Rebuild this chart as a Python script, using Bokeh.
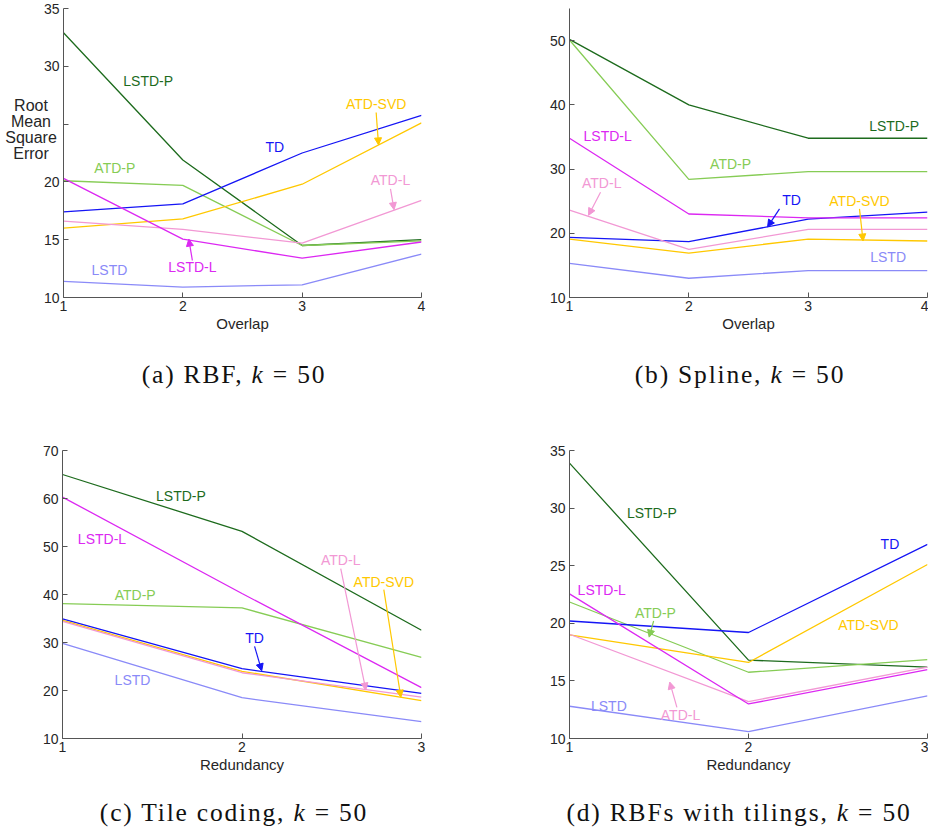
from bokeh.plotting import figure
from bokeh.layouts import column, row
from bokeh.models import Div, Label, Arrow, NormalHead, Range1d, FixedTicker
from bokeh.embed import file_html
from bokeh.resources import INLINE

# ---------------- data ----------------
series_names = ["LSTD-P", "ATD-P", "TD", "ATD-SVD", "ATD-L", "LSTD-L", "LSTD"]

# (a) RBF, k = 50  -- x: Overlap
a_x = [1, 2, 3, 4]
a_lstd_p = [32.9, 21.9, 14.5, 15.0]
a_atd_p = [20.1, 19.7, 14.5, 14.9]
a_td = [17.4, 18.1, 22.5, 25.75]
a_atd_svd = [16.0, 16.8, 19.8, 25.1]
a_atd_l = [16.6, 15.9, 14.7, 18.4]
a_lstd_l = [20.3, 15.05, 13.4, 14.8]
a_lstd = [11.4, 10.9, 11.1, 13.76]

# (b) Spline, k = 50 -- x: Overlap
b_x = [1, 2, 3, 4]
b_lstd_p = [50.2, 40.0, 34.8, 34.8]
b_atd_p = [50.1, 28.4, 29.6, 29.6]
b_td = [19.35, 18.7, 22.2, 23.3]
b_atd_svd = [19.1, 16.9, 19.1, 18.8]
b_atd_l = [23.6, 17.5, 20.6, 20.6]
b_lstd_l = [34.8, 23.0, 22.4, 22.4]
b_lstd = [15.3, 13.0, 14.2, 14.2]

# (c) Tile coding, k = 50 -- x: Redundancy
c_x = [1, 2, 3]
c_lstd_p = [65.0, 53.15, 32.55]
c_atd_p = [38.1, 37.2, 26.9]
c_td = [34.9, 24.55, 19.4]
c_atd_svd = [34.6, 24.0, 17.9]
c_atd_l = [34.4, 23.7, 18.6]
c_lstd_l = [60.3, 40.2, 20.6]
c_lstd = [29.8, 18.5, 13.5]

# (d) RBFs with tilings, k = 50 -- x: Redundancy
d_x = [1, 2, 3]
d_lstd_p = [33.9, 16.8, 16.2]
d_atd_p = [21.85, 15.75, 16.85]
d_td = [20.2, 19.2, 26.85]
d_atd_svd = [19.0, 16.6, 25.1]
d_atd_l = [19.05, 13.2, 16.2]
d_lstd_l = [22.55, 13.0, 15.98]
d_lstd = [12.8, 10.6, 13.7]

a_yticks = [10, 15, 20, 25, 30, 35]
b_yticks = [10, 20, 30, 40, 50]
c_yticks = [10, 20, 30, 40, 50, 60, 70]
d_yticks = [10, 15, 20, 25, 30, 35]

y_title_lines = ["Root", "Mean", "Square", "Error"]
captions = ["(a) RBF, <i>k</i> = 50", "(b) Spline, <i>k</i> = 50",
            "(c) Tile coding, <i>k</i> = 50", "(d) RBFs with tilings, <i>k</i> = 50"]

# ---------------- styles ----------------
COLORS = {
    "LSTD-P": "#1d6b1d",
    "ATD-P": "#86cc55",
    "TD": "#1515f5",
    "ATD-SVD": "#ffc800",
    "ATD-L": "#f298d4",
    "LSTD-L": "#dc28f2",
    "LSTD": "#8a8af8",
}
FONT = "Liberation Sans"

# label positions (data coords) and arrows (start -> end)
a_labels = {"LSTD-P": (1.71, 28.76), "TD": (2.77, 23.0), "ATD-SVD": (3.62, 26.7),
            "ATD-P": (1.43, 21.2), "ATD-L": (3.74, 20.2), "LSTD-L": (2.08, 12.6),
            "LSTD": (1.385, 12.37)}
a_arrows = {"ATD-SVD": (3.62, 26.0, 3.64, 23.2), "ATD-L": (3.74, 19.4, 3.77, 17.6),
            "LSTD-L": (2.08, 13.2, 2.05, 15.05)}
b_labels = {"LSTD-L": (1.32, 35.2), "ATD-P": (2.35, 30.8), "LSTD-P": (3.72, 36.75),
            "ATD-L": (1.27, 27.8), "TD": (2.86, 25.2), "ATD-SVD": (3.43, 25.1),
            "LSTD": (3.67, 16.3)}
b_arrows = {"ATD-L": (1.26, 26.4, 1.16, 22.8), "TD": (2.76, 23.8, 2.66, 21.0),
            "ATD-SVD": (3.43, 23.8, 3.46, 18.8)}
c_labels = {"LSTD-P": (1.66, 60.6), "LSTD-L": (1.22, 51.5), "ATD-P": (1.405, 40.0),
            "ATD-L": (2.55, 47.1), "ATD-SVD": (2.79, 42.7), "TD": (2.07, 31.0),
            "LSTD": (1.39, 22.2)}
c_arrows = {"ATD-L": (2.55, 45.4, 2.69, 20.1), "ATD-SVD": (2.79, 41.0, 2.885, 18.6),
            "TD": (2.07, 29.2, 2.11, 24.1)}
d_labels = {"LSTD-P": (1.46, 29.6), "TD": (2.79, 26.9), "LSTD-L": (1.18, 22.9),
            "ATD-P": (1.48, 20.9), "ATD-SVD": (2.67, 19.85), "LSTD": (1.22, 12.8),
            "ATD-L": (1.62, 12.0)}
d_arrows = {"ATD-P": (1.47, 20.2, 1.445, 18.8), "ATD-L": (1.6, 12.7, 1.56, 14.9)}


def make_panel(xs, ys_by_name, xr, yr, yticks, xlabel, labels, arrows,
               width, height, bl, br, bt, bb):
    p = figure(width=width, height=height, output_backend="svg", toolbar_location=None,
               x_range=Range1d(*xr), y_range=Range1d(*yr),
               min_border_left=bl, min_border_right=br, min_border_top=bt,
               min_border_bottom=bb)
    p.outline_line_color = None
    p.xgrid.visible = False
    p.ygrid.visible = False
    p.background_fill_color = "white"
    p.border_fill_color = "white"
    for ax in (p.xaxis[0], p.yaxis[0]):
        ax.axis_line_color = "#555555"
        ax.major_tick_line_color = "#555555"
        ax.major_tick_in = 5
        ax.major_tick_out = 0
        ax.minor_tick_line_color = None
        ax.major_label_text_font = FONT
        ax.major_label_text_font_size = "14px"
        ax.major_label_text_color = "#262626"
    p.xaxis.ticker = FixedTicker(ticks=list(xs))
    p.yaxis.ticker = FixedTicker(ticks=yticks)
    p.xaxis.major_label_standoff = 3
    p.yaxis.major_label_standoff = 4
    p.xaxis.axis_label = xlabel
    p.xaxis.axis_label_text_font = FONT
    p.xaxis.axis_label_text_font_size = "15px"
    p.xaxis.axis_label_text_font_style = "normal"
    p.xaxis.axis_label_text_color = "#262626"
    p.xaxis.axis_label_standoff = 1

    for name in series_names:
        p.line(xs, ys_by_name[name], line_color=COLORS[name], line_width=1.3)
    for name, (lx, ly) in labels.items():
        p.add_layout(Label(x=lx, y=ly, text=name, text_font=FONT, text_font_size="14px",
                           text_color=COLORS[name], text_align="center",
                           text_baseline="middle"))
    for name, (x0, y0, x1, y1) in arrows.items():
        c = COLORS[name]
        p.add_layout(Arrow(end=NormalHead(size=7, fill_color=c, line_color=c, line_width=1),
                           x_start=x0, y_start=y0, x_end=x1, y_end=y1,
                           line_color=c, line_width=1.2))
    return p


pa = make_panel(a_x, {"LSTD-P": a_lstd_p, "ATD-P": a_atd_p, "TD": a_td, "ATD-SVD": a_atd_svd,
                      "ATD-L": a_atd_l, "LSTD-L": a_lstd_l, "LSTD": a_lstd},
                (1, 4), (10, 35), a_yticks, "Overlap", a_labels, a_arrows,
                424, 345, 22, 43, 8, 48)
pa.border_fill_color = None
pa.yaxis.major_label_overrides = {25: ""}

ylab = Div(text=('<div style="width:62px;padding-top:98px;text-align:center;'
                 'font-family:\'Liberation Sans\',sans-serif;font-size:16px;line-height:16px;'
                 'color:#262626;white-space:nowrap;">%s</div>' % "<br>".join(y_title_lines)),
           width=40, height=345, margin=0)

pb = make_panel(b_x, {"LSTD-P": b_lstd_p, "ATD-P": b_atd_p, "TD": b_td, "ATD-SVD": b_atd_svd,
                      "ATD-L": b_atd_l, "LSTD-L": b_lstd_l, "LSTD": b_lstd},
                (1, 4), (10, 55), b_yticks, "Overlap", b_labels, b_arrows,
                464, 345, 105, 1, 8, 48)

pc = make_panel(c_x, {"LSTD-P": c_lstd_p, "ATD-P": c_atd_p, "TD": c_td, "ATD-SVD": c_atd_svd,
                      "ATD-L": c_atd_l, "LSTD-L": c_lstd_l, "LSTD": c_lstd},
                (1, 3), (10, 70), c_yticks, "Redundancy", c_labels, c_arrows,
                464, 385, 62, 43, 45, 52)

pd_ = make_panel(d_x, {"LSTD-P": d_lstd_p, "ATD-P": d_atd_p, "TD": d_td, "ATD-SVD": d_atd_svd,
                       "ATD-L": d_atd_l, "LSTD-L": d_lstd_l, "LSTD": d_lstd},
                 (1, 3), (10, 35), d_yticks, "Redundancy", d_labels, d_arrows,
                 464, 385, 105, 1, 45, 52)


def caption(text, pad_left, height, line_h, pad_top):
    html = ('<div style="width:464px;box-sizing:border-box;padding-left:%dpx;'
            'padding-top:%dpx;text-align:center;font-family:\'Liberation Serif\',serif;'
            'font-size:25.5px;letter-spacing:1.8px;line-height:%dpx;color:#111;white-space:nowrap;">%s</div>'
            % (pad_left, pad_top, line_h, text))
    return Div(text=html, width=464, height=height, margin=0)


ca = caption(captions[0], 4, 60, 60, 0)
cb = caption(captions[1], 88, 60, 60, 0)
cc = caption(captions[2], 4, 43, 40, 3)
cd = caption(captions[3], 86, 43, 40, 3)

layout = column(row(ylab, pa, pb, spacing=0), row(ca, cb, spacing=0),
                row(pc, pd_, spacing=0), row(cc, cd, spacing=0), spacing=0)

open("out.html", "w").write(file_html(layout, INLINE))
